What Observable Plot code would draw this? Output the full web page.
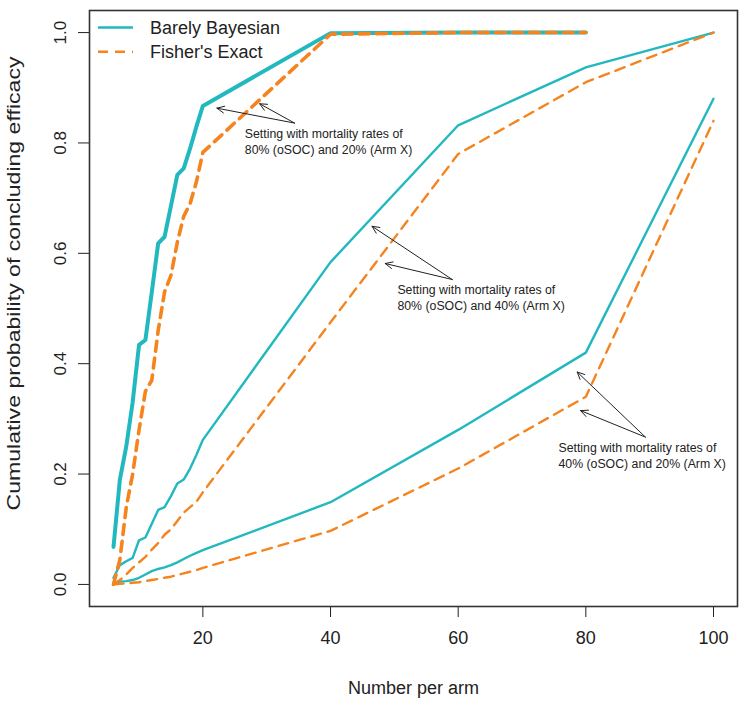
<!DOCTYPE html>
<html><head><meta charset="utf-8">
<script src="https://cdn.jsdelivr.net/npm/d3@7"></script>
<script src="https://cdn.jsdelivr.net/npm/@observablehq/plot@0.6"></script>
<style>
body{margin:0;background:#fff;}
#chart{position:relative;width:750px;height:703px;font-family:"Liberation Sans",Arial,sans-serif;}
#legend{position:absolute;left:0;top:0;}
</style></head><body><div id="chart"></div>
<script>
// ---- data ----
const nShort = [6,7,8,9,10,11,12,13,14,15,16,17,18,19,20,40,60,80];
const nLong = [6,7,8,9,10,11,12,13,14,15,16,17,18,19,20,40,60,80,100];
const bayes8020 = [0.068,0.19,0.25,0.33,0.434,0.443,0.53,0.618,0.630,0.686,0.742,0.754,0.79,0.83,0.867,0.999,1.0,1.0];
const fisher8020 = [0.0,0.045,0.14,0.20,0.28,0.35,0.37,0.46,0.53,0.56,0.62,0.667,0.69,0.73,0.783,0.997,1.0,1.0];
const bayes8040 = [0.012,0.035,0.042,0.048,0.08,0.085,0.11,0.135,0.14,0.16,0.183,0.19,0.21,0.235,0.262,0.584,0.832,0.937,1.0];
const fisher8040 = [0.0,0.008,0.018,0.03,0.04,0.05,0.063,0.075,0.09,0.10,0.115,0.13,0.14,0.15,0.167,0.475,0.78,0.91,1.0];
const bayes4020 = [0.003,0.005,0.006,0.008,0.012,0.018,0.024,0.028,0.031,0.035,0.04,0.046,0.052,0.057,0.062,0.149,0.28,0.42,0.88];
const fisher4020 = [0.0,0.001,0.002,0.003,0.004,0.006,0.008,0.01,0.012,0.014,0.017,0.02,0.023,0.026,0.03,0.097,0.21,0.34,0.84];

const methods = ["Barely Bayesian", "Fisher's Exact"];
const methodColors = ["#22B8BF", "#F5841F"];
const xTicks = [20, 40, 60, 80, 100];
const yTicks = [0, 0.2, 0.4, 0.6, 0.8, 1.0];
const xTitle = "Number per arm";
const yTitle = "Cumulative probability of concluding efficacy";

const annLabels = [
  "Setting with mortality rates of\n80% (oSOC) and 20% (Arm X)",
  "Setting with mortality rates of\n80% (oSOC) and 40% (Arm X)",
  "Setting with mortality rates of\n40% (oSOC) and 20% (Arm X)"
];
const annX = [26.57, 50.48, 75.71];
const annY = [0.803, 0.5205, 0.234];
const arrowFromX = [34.37, 34.37, 59.07, 59.07, 89.33, 89.33];
const arrowFromY = [0.836, 0.836, 0.5525, 0.5525, 0.267, 0.267];
const arrowToX = [22.2, 28.9, 46.5, 48.57, 78.64, 79.17];
const arrowToY = [0.863, 0.871, 0.649, 0.5815, 0.385, 0.315];

// ---- build tables ----
const rows = [];
function add(ns, vals, method, scenario) {
  ns.forEach((n, i) => rows.push({n, p: vals[i], method, scenario}));
}
add(nShort, bayes8020, methods[0], "80/20");
add(nLong, bayes8040, methods[0], "80/40");
add(nLong, bayes4020, methods[0], "40/20");
add(nShort, fisher8020, methods[1], "80/20");
add(nLong, fisher8040, methods[1], "80/40");
add(nLong, fisher4020, methods[1], "40/20");

const annotations = annLabels.map((label, i) => ({label, x: annX[i], y: annY[i]}));
const arrows = arrowFromX.map((x1, i) => ({x1, y1: arrowFromY[i], x2: arrowToX[i], y2: arrowToY[i]}));

const sel = (m, thick) => rows.filter(r => r.method === m && ((r.scenario === "80/20") === thick));
const dash = "10,7";

const chart = Plot.plot({
  width: 750, height: 703,
  marginLeft: 89, marginRight: 13, marginTop: 10, marginBottom: 97,
  x: {domain: [2.24, 103.76]},
  y: {domain: [-0.04, 1.04]},
  style: {fontFamily: "'Liberation Sans', Arial, sans-serif", fontSize: "17px", color: "#222", background: "white"},
  marks: [
    Plot.axisX({ticks: xTicks, tickSize: 11, tickPadding: 14, fontSize: 18, label: null}),
    Plot.axisY({ticks: yTicks, tickSize: 11, tickRotate: -90, tickPadding: 13, fontSize: 17, tickFormat: d3.format(".1f"), label: null}),
    Plot.text([xTitle], {text: d => d, frameAnchor: "bottom", dy: 87, fontSize: 18}),
    Plot.text([yTitle], {text: d => d, frameAnchor: "left", textAnchor: "middle", rotate: -90, dx: -75, dy: -25, fontSize: 18, className: "ytitle"}),
    Plot.line(sel(methods[0], true), {x: "n", y: "p", z: "scenario", stroke: methodColors[0], strokeWidth: 4}),
    Plot.line(sel(methods[0], false), {x: "n", y: "p", z: "scenario", stroke: methodColors[0], strokeWidth: 2.4}),
    Plot.line(sel(methods[1], true), {x: "n", y: "p", z: "scenario", stroke: methodColors[1], strokeWidth: 3.6, strokeDasharray: dash}),
    Plot.line(sel(methods[1], false), {x: "n", y: "p", z: "scenario", stroke: methodColors[1], strokeWidth: 2.4, strokeDasharray: dash}),
    Plot.arrow(arrows, {x1: "x1", y1: "y1", x2: "x2", y2: "y2", stroke: "#222", strokeWidth: 1, headLength: 12, headAngle: 50, bend: 0}),
    Plot.text(annotations, {x: "x", y: "y", text: "label", textAnchor: "start", lineAnchor: "middle", fontSize: 12.3, lineHeight: 1.3, fill: "#222"}),
    Plot.frame({stroke: "#333", strokeWidth: 1.6})
  ]
});
const root = document.getElementById("chart");
root.appendChild(chart);
// stretch the y-axis title along its length as in the reference
d3.select(chart).selectAll("g.ytitle text").attr("textLength", 454).attr("lengthAdjust", "spacingAndGlyphs");

// ---- legend (overlay, top-left inside the frame) ----
const leg = d3.select(root).append("svg").attr("id", "legend").attr("width", 300).attr("height", 70);
methods.forEach((m, i) => {
  const cy = 27.5 + i * 24.2;
  leg.append("line").attr("x1", 98).attr("x2", 133).attr("y1", cy).attr("y2", cy)
    .attr("stroke", methodColors[i]).attr("stroke-width", 2.6)
    .attr("stroke-dasharray", i === 1 ? dash : null);
  leg.append("text").attr("x", 150).attr("y", cy).attr("dy", "0.36em")
    .attr("font-size", 18).attr("fill", "#222")
    .attr("font-family", "'Liberation Sans', Arial, sans-serif").text(m);
});
</script></body></html>
